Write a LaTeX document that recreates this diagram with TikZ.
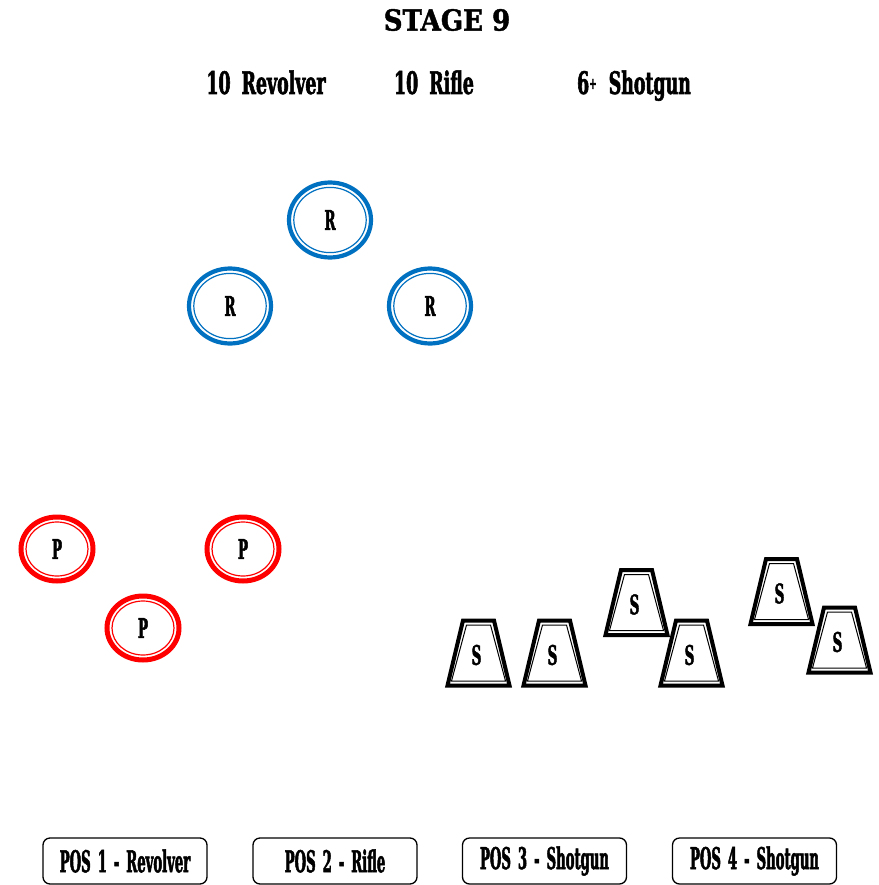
\documentclass[tikz,border=0pt]{standalone}
\usepackage{fontspec}
\setmainfont{DejaVu Serif}
\newfontfamily\wood{DejaVu Serif}[FakeStretch=0.44, FakeBold=1.6]
\newfontfamily\woodlbl{DejaVu Serif}[FakeStretch=0.5, FakeBold=1.6]
\newfontfamily\woodhead{DejaVu Serif}[FakeStretch=0.56, FakeBold=1.8]
\newfontfamily\titlefont{DejaVu Serif}[FakeStretch=0.9, FakeBold=1.5]
\usetikzlibrary{shapes.geometric}
\definecolor{tblue}{HTML}{0070C0}
\definecolor{tred}{HTML}{FF0000}
\newcommand\shotgunt[3]{%
  \draw[line width=4pt, line join=miter] (#2-31,#3+32.5) -- (#2+31,#3+32.5) -- (#2+15.5,#3-32.5) -- (#2-15.5,#3-32.5) -- cycle;
  \draw[line width=1pt, line join=miter] (#2-27,#3+28) -- (#2+27,#3+28) -- (#2+12,#3-28) -- (#2-12,#3-28) -- cycle;
  \node[lbl] (#1) at (#2-2,#3+2) {S};
}
\begin{document}
\begin{tikzpicture}[x=1pt,y=-1pt,
  lbl/.style={font=\woodlbl\bfseries\fontsize{27}{27}\selectfont, inner sep=0pt},
  head/.style={font=\woodhead\bfseries\fontsize{31}{31}\selectfont, inner sep=0pt, anchor=base},
  rifle/.style={ellipse, draw=tblue, line width=4.2pt, minimum width=82pt, minimum height=75pt, inner sep=0pt, lbl},
  pistol/.style={ellipse, draw=tred, line width=5pt, minimum width=72pt, minimum height=64pt, inner sep=0pt, lbl},
  posbox/.style={draw, line width=1.3pt, rounded corners=7pt, minimum width=164pt, minimum height=46pt, inner sep=0pt, font=\wood\bfseries\fontsize{30}{30}\selectfont}]
\useasboundingbox (0,0) rectangle (878,885);

% title and round counts
\node[font=\titlefont\bfseries\fontsize{29}{29}\selectfont, inner sep=0pt] (title) at (447,20) {STAGE 9};
\node[head] (hrev) at (266,94) {10\hspace{11pt}Revolver};
\node[head] (hrif) at (434,94) {10\hspace{11pt}Rifle};
\node[head] (hshot) at (634,94) {6{\fontsize{16}{16}\selectfont\raisebox{5pt}{+}}\hspace{12pt}Shotgun};

% rifle targets
\node[rifle] (r1) at (330,220) {R};
\node[rifle] (r2) at (230,306) {R};
\node[rifle] (r3) at (430,306) {R};
\foreach \n in {r1,r2,r3}
  \draw[tblue, line width=1.2pt] (\n.center) ellipse [x radius=36.2, y radius=32.6];

% pistol targets
\node[pistol] (p1) at (57,549) {P};
\node[pistol] (p2) at (243,549) {P};
\node[pistol] (p3) at (143,628) {P};
\foreach \n in {p1,p2,p3}
  \draw[tred, line width=1.2pt] (\n.center) ellipse [x radius=31, y radius=27];

% shotgun targets
\shotgunt{s1}{478.5}{653}
\shotgunt{s2}{554.5}{653}
\shotgunt{s3}{636.5}{602.5}
\shotgunt{s4}{691.5}{653}
\shotgunt{s5}{781.5}{591.5}
\shotgunt{s6}{839.5}{640}

% positions
\node[posbox] (pos1) at (125,861) {POS\hspace{7pt}1\hspace{7pt}-\hspace{7pt}Revolver};
\node[posbox] (pos2) at (335,861) {POS\hspace{7pt}2\hspace{7pt}-\hspace{7pt}Rifle};
\node[posbox] (pos3) at (544.5,861) {POS\hspace{7pt}3\hspace{7pt}-\hspace{7pt}Shotgun};
\node[posbox] (pos4) at (754.5,861) {POS\hspace{7pt}4\hspace{7pt}-\hspace{7pt}Shotgun};
\end{tikzpicture}
\end{document}
